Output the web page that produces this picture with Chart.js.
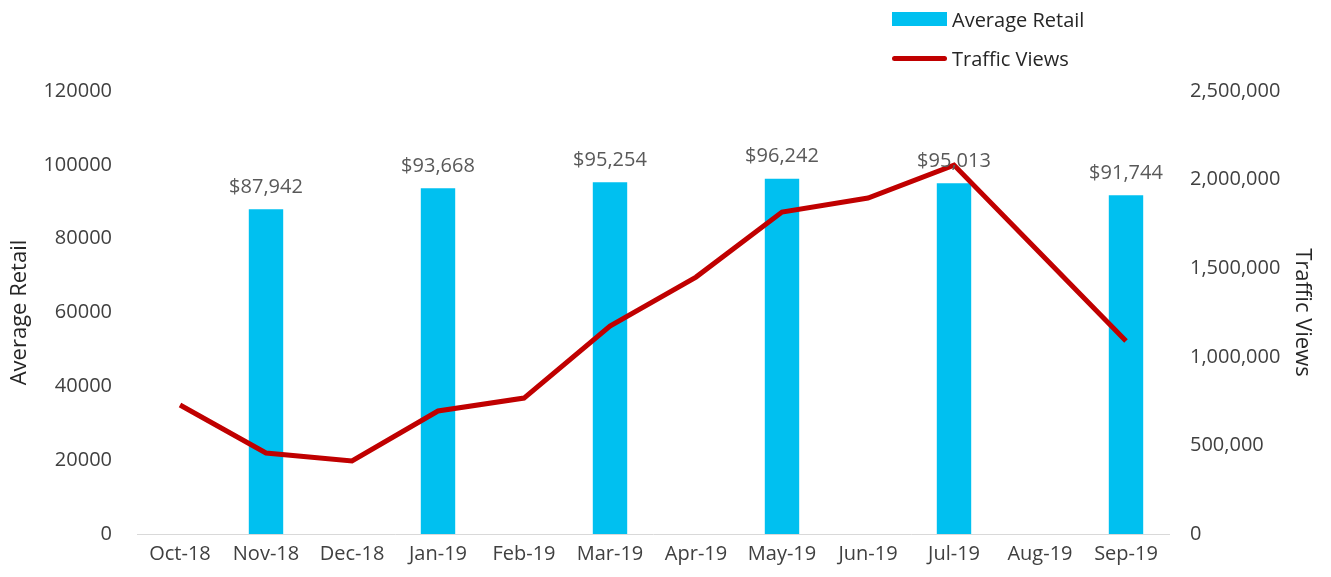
<!DOCTYPE html>
<html>
<head>
<meta charset="utf-8">
<script src="https://cdn.jsdelivr.net/npm/chart.js@4.4.1/dist/chart.umd.min.js"></script>
<style>
    body { margin: 0; background: #fff; font-family: "Open Sans", sans-serif; }
    #wrap { position: relative; width: 1331px; height: 577px; }
    .legend { position: absolute; left: 892px; font-size: 20px; color: #262626; display: flex; align-items: center; height: 28px; }
    .swatch { display: inline-block; width: 55px; margin-right: 5px; }
</style>
</head>
<body>
<div id="wrap">
    <canvas id="grafica" width="1331" height="577"></canvas>
    <div class="legend" style="top: 5px;"><span class="swatch" style="height: 14px; background: #00c0f0;"></span>Average Retail</div>
    <div class="legend" style="top: 44px;"><span class="swatch" style="height: 5px; border-radius: 3px; background: #c00000;"></span>Traffic Views</div>
</div>
<script>

const meses = ['Oct-18', 'Nov-18', 'Dec-18', 'Jan-19', 'Feb-19', 'Mar-19', 'Apr-19', 'May-19', 'Jun-19', 'Jul-19', 'Aug-19', 'Sep-19'];
const averageRetail = [null, 87942, null, 93668, null, 95254, null, 96242, null, 95013, null, 91744];
const trafficViews = [728000, 457000, 412000, 694000, 767000, 1174000, 1450000, 1817000, 1896000, 2082000, 1586000, 1089000];
const ticksIzq = [0, 20000, 40000, 60000, 80000, 100000, 120000];
const ticksDer = [0, 500000, 1000000, 1500000, 2000000, 2500000];

const colorTexto = '#404040';

// etiquetas de dinero encima de las barras
const etiquetasBarras = {
    id: 'etiquetasBarras',
    afterDatasetsDraw(chart) {
        const ctx = chart.ctx;
        const meta = chart.getDatasetMeta(0);
        ctx.save();
        ctx.font = '20px "Open Sans"';
        ctx.fillStyle = '#595959';
        ctx.textAlign = 'center';
        ctx.textBaseline = 'bottom';
        meta.data.forEach((bar, i) => {
            let v = averageRetail[i];
            if (v == null) return;
            ctx.fillText('$' + v.toLocaleString('en-US'), bar.x, bar.y - 12);
        });
        ctx.restore();
    }
};

// titulos de los ejes, girados
const titulosEjes = {
    id: 'titulosEjes',
    afterDraw(chart) {
        const ctx = chart.ctx;
        const area = chart.chartArea;
        let yMedio = (area.top + area.bottom) / 2;
        ctx.save();
        ctx.font = '22px "Open Sans"';
        ctx.fillStyle = '#262626';
        ctx.textAlign = 'center';
        ctx.textBaseline = 'middle';

        ctx.translate(20, yMedio);
        ctx.rotate(-Math.PI / 2);
        ctx.fillText('Average Retail', 0, 0);
        ctx.restore();

        ctx.save();
        ctx.font = '22px "Open Sans"';
        ctx.fillStyle = '#262626';
        ctx.textAlign = 'center';
        ctx.textBaseline = 'middle';
        ctx.translate(1302, yMedio);
        ctx.rotate(Math.PI / 2);
        ctx.fillText('Traffic Views', 0, 0);
        ctx.restore();
    }
};

new Chart('grafica', {
    data: {
        labels: meses,
        datasets: [{
            type: 'bar',
            label: 'Average Retail',
            data: averageRetail,
            backgroundColor: '#00c0f0',
            yAxisID: 'y',
            barPercentage: 0.4,
            categoryPercentage: 1,
            skipNull: true,
            order: 2
        }, {
            type: 'line',
            label: 'Traffic Views',
            data: trafficViews,
            borderColor: '#c00000',
            borderWidth: 5,
            pointRadius: 0,
            tension: 0,
            yAxisID: 'y1',
            order: 1
        }]
    },
    options: {
        responsive: false,
        animation: false,
        layout: { padding: { top: 91, bottom: 0 } },
        plugins: {
            legend: { display: false },
            tooltip: { enabled: false }
        },
        scales: {
            x: {
                grid: { display: false, drawTicks: false },
                border: { color: '#d9d9d9', width: 1 },
                ticks: { color: colorTexto, font: { family: 'Open Sans', size: 20 }, padding: 8, maxRotation: 0 },
                afterFit: (s) => { s.height = 43; }
            },
            y: {
                position: 'left',
                min: 0,
                max: 120000,
                grid: { display: false, drawTicks: false },
                border: { display: false },
                afterBuildTicks: (s) => { s.ticks = ticksIzq.map(v => ({ value: v })); },
                ticks: { color: colorTexto, font: { family: 'Open Sans', size: 20 }, padding: 25, callback: (v) => String(v) },
                afterFit: (s) => { s.width = 137; }
            },
            y1: {
                position: 'right',
                min: 0,
                max: 2500000,
                grid: { display: false, drawTicks: false },
                border: { display: false },
                afterBuildTicks: (s) => { s.ticks = ticksDer.map(v => ({ value: v })); },
                ticks: { color: colorTexto, font: { family: 'Open Sans', size: 20 }, padding: 21, callback: (v) => v.toLocaleString('en-US') },
                afterFit: (s) => { s.width = 162; }
            }
        }
    },
    plugins: [etiquetasBarras, titulosEjes]
});

</script>
</body>
</html>
